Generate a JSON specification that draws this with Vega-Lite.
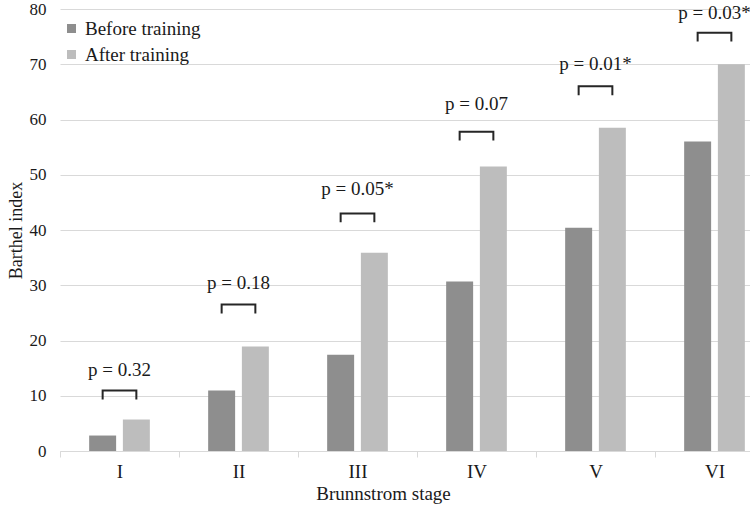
{
  "$schema": "https://vega.github.io/schema/vega-lite/v6.json",
  "autosize": "none",
  "width": 690,
  "height": 442,
  "padding": {"left": 60, "top": 9, "right": 0, "bottom": 56},
  "config": {
    "view": {"stroke": null},
    "font": "Liberation Serif",
    "axis": {"labelFont": "Liberation Serif", "titleFont": "Liberation Serif", "labelColor": "#1a1a1a", "titleColor": "#1a1a1a", "titleFontWeight": "normal"},
    "legend": {"labelFont": "Liberation Serif"}
  },
  "datasets": {
    "bars": [
      {"stage": "I", "group": "Before training", "value": 2.8},
      {"stage": "I", "group": "After training", "value": 5.7},
      {"stage": "II", "group": "Before training", "value": 10.95},
      {"stage": "II", "group": "After training", "value": 18.9},
      {"stage": "III", "group": "Before training", "value": 17.4},
      {"stage": "III", "group": "After training", "value": 35.9},
      {"stage": "IV", "group": "Before training", "value": 30.7},
      {"stage": "IV", "group": "After training", "value": 51.5},
      {"stage": "V", "group": "Before training", "value": 40.4},
      {"stage": "V", "group": "After training", "value": 58.5},
      {"stage": "VI", "group": "Before training", "value": 56.0},
      {"stage": "VI", "group": "After training", "value": 70.0}
    ],
    "brackets": [
      {"stage": "I", "group": "Before training", "y": 9.3, "ord": 1},
      {"stage": "I", "group": "Before training", "y": 10.95, "ord": 2},
      {"stage": "I", "group": "After training", "y": 10.95, "ord": 3},
      {"stage": "I", "group": "After training", "y": 9.3, "ord": 4},
      {"stage": "II", "group": "Before training", "y": 24.9, "ord": 1},
      {"stage": "II", "group": "Before training", "y": 26.5, "ord": 2},
      {"stage": "II", "group": "After training", "y": 26.5, "ord": 3},
      {"stage": "II", "group": "After training", "y": 24.9, "ord": 4},
      {"stage": "III", "group": "Before training", "y": 41.4, "ord": 1},
      {"stage": "III", "group": "Before training", "y": 43.0, "ord": 2},
      {"stage": "III", "group": "After training", "y": 43.0, "ord": 3},
      {"stage": "III", "group": "After training", "y": 41.4, "ord": 4},
      {"stage": "IV", "group": "Before training", "y": 56.2, "ord": 1},
      {"stage": "IV", "group": "Before training", "y": 57.8, "ord": 2},
      {"stage": "IV", "group": "After training", "y": 57.8, "ord": 3},
      {"stage": "IV", "group": "After training", "y": 56.2, "ord": 4},
      {"stage": "V", "group": "Before training", "y": 64.4, "ord": 1},
      {"stage": "V", "group": "Before training", "y": 66.0, "ord": 2},
      {"stage": "V", "group": "After training", "y": 66.0, "ord": 3},
      {"stage": "V", "group": "After training", "y": 64.4, "ord": 4},
      {"stage": "VI", "group": "Before training", "y": 74.1, "ord": 1},
      {"stage": "VI", "group": "Before training", "y": 75.7, "ord": 2},
      {"stage": "VI", "group": "After training", "y": 75.7, "ord": 3},
      {"stage": "VI", "group": "After training", "y": 74.1, "ord": 4}
    ],
    "labels": [
      {"stage": "I", "label": "p = 0.32", "y": 14.75},
      {"stage": "II", "label": "p = 0.18", "y": 30.4},
      {"stage": "III", "label": "p = 0.05*", "y": 47.5},
      {"stage": "IV", "label": "p = 0.07", "y": 62.8},
      {"stage": "V", "label": "p = 0.01*", "y": 70.1},
      {"stage": "VI", "label": "p = 0.03*", "y": 79.3}
    ]
  },
  "encoding": {
    "x": {
      "field": "stage",
      "type": "nominal",
      "sort": ["I", "II", "III", "IV", "V", "VI"],
      "scale": {"domain": ["I", "II", "III", "IV", "V", "VI"], "range": [0, 714], "paddingInner": 0, "paddingOuter": 0},
      "axis": {
        "title": "Brunnstrom stage",
        "titleFontSize": 19,
        "titleX": 323,
        "titlePadding": 3,
        "labelAngle": 0,
        "labelFontSize": 19,
        "labelPadding": 5,
        "tickBand": "extent",
        "tickSize": 6,
        "tickColor": "#d9d9d9",
        "domainColor": "#d9d9d9",
        "grid": false
      }
    }
  },
  "layer": [
    {
      "data": {"name": "bars"},
      "mark": {"type": "bar"},
      "encoding": {
        "xOffset": {
          "field": "group",
          "type": "nominal",
          "sort": ["Before training", "After training"],
          "scale": {"paddingInner": 0.2, "paddingOuter": 0.865}
        },
        "y": {
          "field": "value",
          "type": "quantitative",
          "scale": {"domain": [0, 80], "nice": false},
          "axis": {
            "title": "Barthel index",
            "titleFontSize": 18,
            "titlePadding": 4,
            "values": [0, 10, 20, 30, 40, 50, 60, 70, 80],
            "labelFontSize": 17,
            "labelPadding": 14,
            "domain": false,
            "ticks": false,
            "grid": true,
            "gridColor": "#d9d9d9"
          }
        },
        "color": {
          "field": "group",
          "type": "nominal",
          "sort": ["Before training", "After training"],
          "scale": {"domain": ["Before training", "After training"], "range": ["#8e8e8e", "#bdbdbd"]},
          "legend": {
            "title": null,
            "orient": "none",
            "legendX": 2,
            "legendY": 10,
            "symbolType": "square",
            "symbolSize": 81,
            "symbolStrokeWidth": 0,
            "labelFontSize": 19,
            "labelColor": "#1a1a1a",
            "labelOffset": 4,
            "rowPadding": 6
          }
        }
      }
    },
    {
      "data": {"name": "brackets"},
      "mark": {"type": "line", "color": "#262626", "strokeWidth": 2},
      "encoding": {
        "xOffset": {
          "field": "group",
          "type": "nominal",
          "sort": ["Before training", "After training"],
          "scale": {"paddingInner": 0.2, "paddingOuter": 0.865}
        },
        "y": {"field": "y", "type": "quantitative"},
        "detail": {"field": "stage"},
        "order": {"field": "ord", "type": "quantitative"}
      }
    },
    {
      "data": {"name": "labels"},
      "mark": {"type": "text", "fontSize": 19, "color": "#1a1a1a", "font": "Liberation Serif"},
      "encoding": {
        "y": {"field": "y", "type": "quantitative"},
        "text": {"field": "label"}
      }
    }
  ]
}
